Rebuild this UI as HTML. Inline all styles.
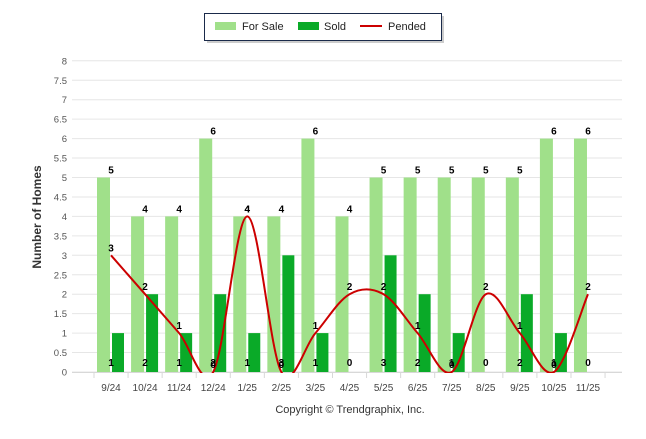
<!DOCTYPE html>
<html><head><meta charset="utf-8"><style>
body{margin:0;background:#fff;width:646px;height:434px;overflow:hidden;font-family:"Liberation Sans",Arial,sans-serif}
</style></head><body>
<svg id="s" width="646" height="434" xmlns="http://www.w3.org/2000/svg" font-family="Liberation Sans, Arial, sans-serif"></svg>
<script>
var s=document.getElementById('s');var h='<defs><clipPath id="cp"><rect x="72" y="50" width="560" height="323"/></clipPath></defs>';
var y0=372,u=38.9;function Y(v){return y0-v*u;}
for(var i=0;i<=16;i++){var yy=Y(i*0.5);h+='<line x1="72" x2="622" y1="'+yy+'" y2="'+yy+'" stroke="#e6e6e6" stroke-width="1"/>';
h+='<text x="67" y="'+(yy+3.5)+'" font-size="9.5" fill="#555" text-anchor="end">'+(i*0.5)+'</text>';}
h+='<line x1="72" x2="622" y1="372.5" y2="372.5" stroke="#d8d8d8"/>';
var cats=['9/24','10/24','11/24','12/24','1/25','2/25','3/25','4/25','5/25','6/25','7/25','8/25','9/25','10/25','11/25'];
var fs=[5,4,4,6,4,4,6,4,5,5,5,5,5,6,6],so=[1,2,1,2,1,3,1,0,3,2,1,0,2,1,0],pe=[3,2,1,0,4,0,1,2,2,1,0,2,1,0,2];
function X(i){return 111+i*34.07;}
for(var i=0;i<=15;i++){var tx=X(i)-17;h+='<line x1="'+tx+'" x2="'+tx+'" y1="372" y2="378" stroke="#d8d8d8"/>';}
var lab='';
for(var i=0;i<15;i++){var c=X(i);
h+='<rect x="'+(c-14)+'" y="'+Y(fs[i])+'" width="13" height="'+(fs[i]*u)+'" fill="#a0e08a"/>';
if(so[i])h+='<rect x="'+(c+1)+'" y="'+Y(so[i])+'" width="12" height="'+(so[i]*u)+'" fill="#0aaa28"/>';
h+='<text x="'+c+'" y="391" font-size="10" fill="#444" text-anchor="middle">'+cats[i]+'</text>';
lab+='<text x="'+c+'" y="'+(Y(fs[i])-4)+'" font-size="10" font-weight="bold" fill="#000" text-anchor="middle">'+fs[i]+'</text>';
lab+='<text x="'+c+'" y="366" font-size="10" font-weight="bold" fill="#000" text-anchor="middle">'+so[i]+'</text>';
lab+='<text x="'+c+'" y="'+(Y(pe[i])-4)+'" font-size="10" font-weight="bold" fill="#000" text-anchor="middle">'+pe[i]+'</text>';}
var pts=pe.map(function(v,i){return [X(i),Y(v)];});
var n=pts.length;
function P(i){return pts[Math.max(0,Math.min(n-1,i))];}
var d='M'+pts[0][0]+' '+pts[0][1];
for(var i=0;i<n-1;i++){var p0=P(i-1),p1=P(i),p2=P(i+1),p3=P(i+2);
var c1x=p1[0]+(p2[0]-p0[0])/6,c1y=p1[1]+(p2[1]-p0[1])/6,c2x=p2[0]-(p3[0]-p1[0])/6,c2y=p2[1]-(p3[1]-p1[1])/6;
d+=' C'+c1x+' '+c1y+' '+c2x+' '+c2y+' '+p2[0]+' '+p2[1];}
h+='<path d="'+d+'" fill="none" stroke="#cc0000" stroke-width="2" clip-path="url(#cp)"/>';
h+=lab;
h+='<text transform="translate(41,217) rotate(-90)" font-size="12" font-weight="bold" fill="#333" text-anchor="middle">Number of Homes</text>';
h+='<text x="350" y="413" font-size="11" fill="#333" text-anchor="middle">Copyright © Trendgraphix, Inc.</text>';
h+='<rect x="207" y="16" width="237" height="27" fill="#999" opacity="0.5"/>';
h+='<rect x="204.5" y="13.5" width="237" height="27" fill="#fff" stroke="#1a2a4a"/>';
h+='<rect x="215" y="22" width="21" height="8" fill="#a0e08a"/><text x="242" y="30" font-size="11" fill="#222">For Sale</text>';
h+='<rect x="298" y="22" width="21" height="8" fill="#0aaa28"/><text x="324" y="30" font-size="11" fill="#222">Sold</text>';
h+='<rect x="360" y="25" width="22" height="2" fill="#cc0000"/><text x="388" y="30" font-size="11" fill="#222">Pended</text>';
s.innerHTML=h;
</script>
</body></html>
